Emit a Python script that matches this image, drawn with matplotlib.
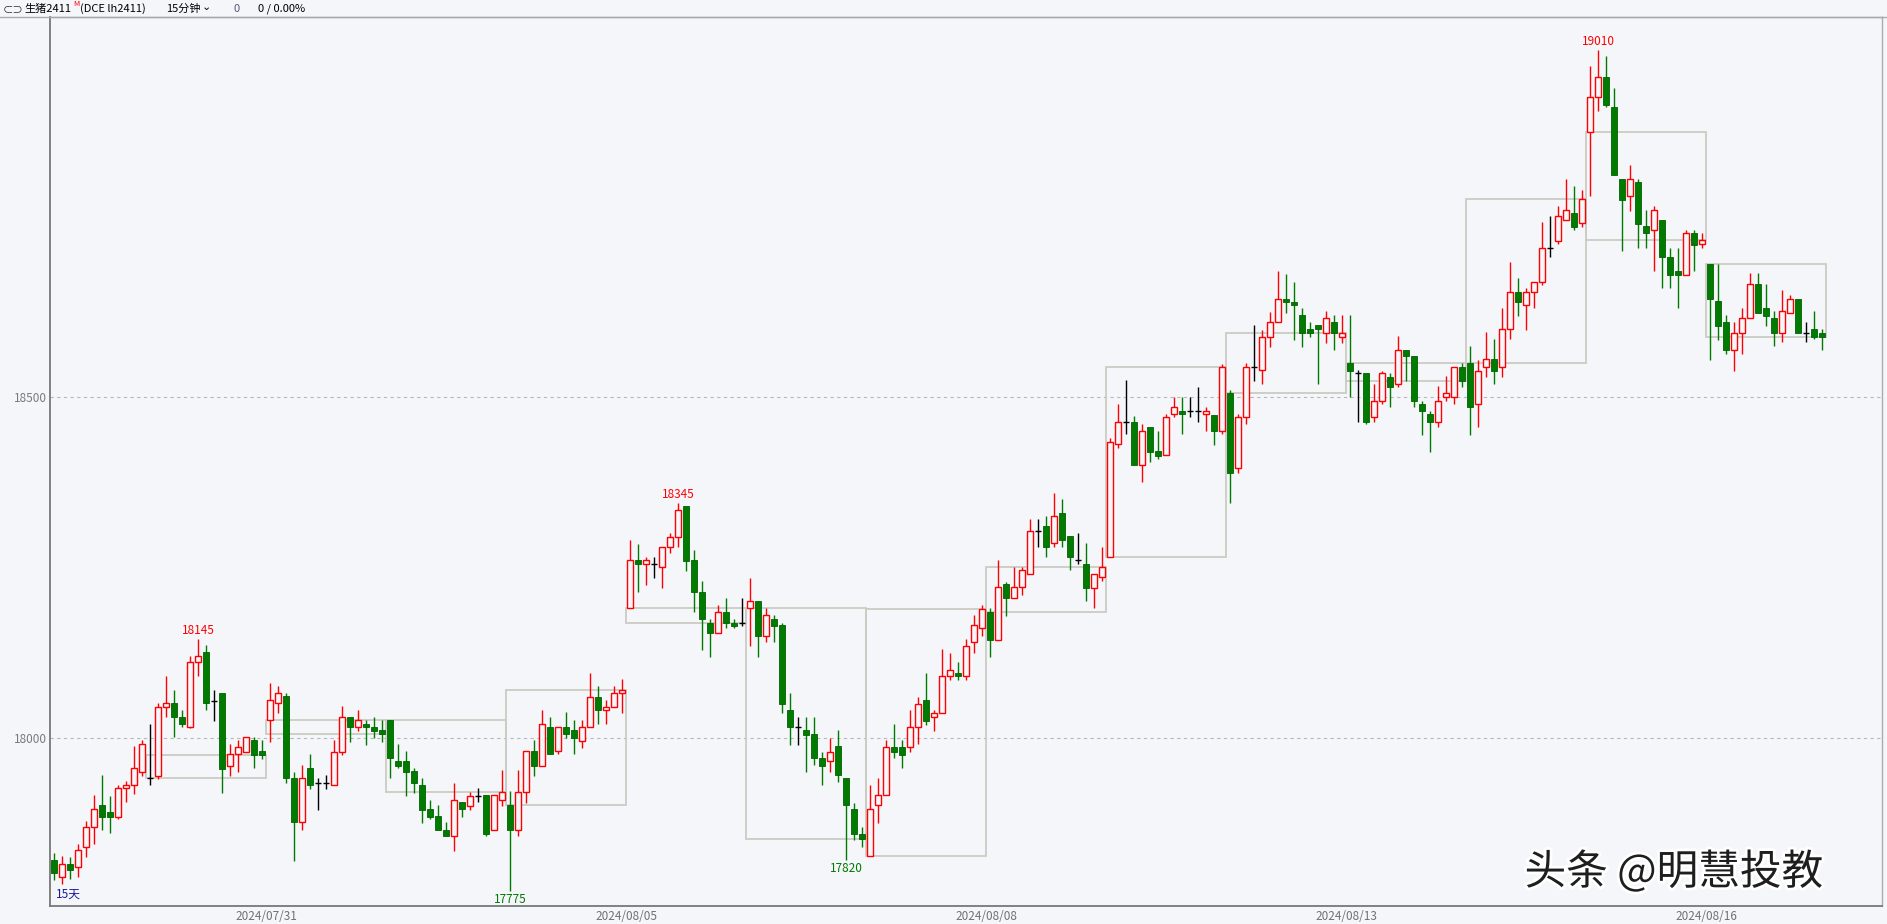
import matplotlib
matplotlib.use('Agg')
import matplotlib.pyplot as plt
import matplotlib.patheffects as pe
from matplotlib.patches import Rectangle
from matplotlib.lines import Line2D
import numpy as np

plt.rcParams['font.family'] = ['Noto Sans CJK SC', 'DejaVu Sans']

# 15分钟K线 生猪2411, 每根: 开 高 低 收
opens = [17820, 17795, 17815, 17810, 17840, 17869, 17901, 17891, 17884, 17926, 17931, 17950,
         17940, 17944, 18045, 18051, 18030, 18015, 18111, 18126, 18054, 18066, 17959, 17976, 17979, 17996, 17980,
         18026, 18051, 18061, 17940, 17876, 17955, 17934, 17934, 17930, 17979, 18031, 18015, 18020, 18016, 18011,
         18026, 17965, 17965, 17951, 17930, 17895, 17885, 17865, 17855, 17905, 17900, 17915, 17916, 17865, 17909,
         17901, 17864, 17920, 17980, 17959, 18015, 17980, 18015, 18011, 17995, 18015, 18060, 18040, 18045, 18065,
         18190, 18261, 18255, 18255, 18250, 18280, 18295, 18340, 18261, 18214, 18169, 18154, 18185, 18169, 18169,
         18190, 18200, 18150, 18175, 18165, 18041, 18015, 18011, 18005, 17970, 17965, 17987, 17940, 17895, 17859,
         17826, 17901, 17916, 17986, 17986, 17986, 18015, 18055, 18030, 18036, 18090, 18095, 18090, 18140, 18161,
         18185, 18144, 18226, 18205, 18221, 18240, 18304, 18311, 18286, 18330, 18296, 18261, 18255, 18220, 18236,
         18266, 18431, 18464, 18464, 18401, 18456, 18421, 18415, 18475, 18480, 18480, 18480, 18475, 18474, 18450,
         18506, 18396, 18471, 18545, 18540, 18589, 18610, 18645, 18640, 18621, 18600, 18606, 18595, 18610, 18589,
         18550, 18535, 18535, 18471, 18495, 18530, 18520, 18570, 18560, 18490, 18475, 18464, 18500, 18500, 18545,
         18550, 18490, 18545, 18556, 18545, 18600, 18655, 18636, 18655, 18670, 18720, 18730, 18760, 18770, 18756,
         18890, 18941, 18970, 18926, 18821, 18795, 18816, 18751, 18745, 18760, 18706, 18686, 18680, 18741, 18725,
         18696, 18642, 18610, 18570, 18595, 18616, 18666, 18631, 18616, 18595, 18624, 18645, 18595, 18600, 18595]
highs = [17830, 17826, 17824, 17844, 17877, 17916, 17945, 17914, 17931, 17937, 17987, 17996,
         18020, 18051, 18091, 18070, 18041, 18120, 18145, 18136, 18070, 18066, 17991, 17996, 18001, 18001, 17996,
         18081, 18076, 18066, 17950, 17960, 17976, 17940, 17945, 17996, 18046, 18031, 18041, 18026, 18031, 18026,
         18026, 17991, 17980, 17955, 17940, 17909, 17901, 17876, 17934, 17905, 17920, 17926, 17916, 17916, 17952,
         17921, 17952, 17980, 17997, 18041, 18031, 18015, 18037, 18026, 18026, 18095, 18076, 18055, 18076, 18086,
         18290, 18285, 18265, 18265, 18280, 18300, 18345, 18340, 18276, 18230, 18175, 18195, 18205, 18175, 18205,
         18235, 18200, 18190, 18180, 18169, 18065, 18030, 18030, 18030, 17979, 18000, 18011, 17940, 17904, 17869,
         17930, 17940, 17996, 18020, 17996, 18041, 18060, 18095, 18041, 18130, 18125, 18111, 18145, 18180, 18195,
         18190, 18261, 18229, 18250, 18250, 18321, 18321, 18326, 18360, 18350, 18296, 18301, 18286, 18240, 18280,
         18440, 18490, 18525, 18472, 18461, 18456, 18450, 18475, 18500, 18500, 18500, 18515, 18485, 18474, 18549,
         18510, 18475, 18550, 18606, 18599, 18625, 18685, 18681, 18670, 18631, 18610, 18606, 18626, 18621, 18621,
         18621, 18540, 18535, 18520, 18539, 18535, 18590, 18570, 18560, 18495, 18480, 18516, 18531, 18545, 18550,
         18575, 18555, 18596, 18585, 18631, 18699, 18675, 18660, 18670, 18757, 18766, 18781, 18820, 18810, 18805,
         18986, 19010, 19001, 18955, 18821, 18841, 18821, 18775, 18781, 18760, 18720, 18720, 18746, 18746, 18741,
         18696, 18696, 18621, 18610, 18631, 18682, 18682, 18666, 18626, 18657, 18650, 18645, 18610, 18626, 18600]
lows = [17791, 17785, 17793, 17795, 17825, 17844, 17864, 17860, 17880, 17905, 17917, 17944,
        17930, 17939, 18030, 18001, 18016, 18014, 18090, 18040, 18025, 17919, 17944, 17950, 17979, 17955, 17969,
        17994, 18036, 17934, 17819, 17865, 17925, 17894, 17925, 17930, 17975, 17994, 18010, 17989, 18000, 17994,
        17940, 17955, 17915, 17919, 17875, 17880, 17864, 17855, 17834, 17884, 17894, 17905, 17855, 17865, 17900,
        17775, 17855, 17904, 17944, 17959, 17976, 17976, 18000, 17976, 17985, 18015, 18020, 18020, 18045, 18036,
        18190, 18214, 18224, 18235, 18220, 18271, 18280, 18245, 18185, 18129, 18119, 18154, 18161, 18161, 18164,
        18135, 18119, 18140, 18140, 18036, 17989, 17989, 17950, 17960, 17930, 17950, 17935, 17820, 17850, 17840,
        17826, 17875, 17916, 17970, 17955, 17979, 17990, 18019, 18010, 18036, 18085, 18085, 18085, 18125, 18149,
        18119, 18144, 18179, 18205, 18210, 18240, 18280, 18265, 18280, 18280, 18246, 18255, 18200, 18190, 18230,
        18266, 18425, 18446, 18401, 18375, 18405, 18410, 18415, 18471, 18446, 18471, 18464, 18450, 18430, 18446,
        18345, 18389, 18461, 18524, 18520, 18574, 18610, 18624, 18584, 18574, 18589, 18520, 18580, 18570, 18579,
        18500, 18464, 18461, 18464, 18490, 18485, 18515, 18524, 18485, 18445, 18420, 18456, 18495, 18490, 18515,
        18445, 18456, 18530, 18520, 18530, 18585, 18620, 18599, 18631, 18665, 18706, 18725, 18760, 18745, 18750,
        18795, 18920, 18926, 18826, 18715, 18774, 18720, 18720, 18685, 18660, 18660, 18631, 18680, 18685, 18720,
        18555, 18584, 18564, 18539, 18564, 18616, 18624, 18605, 18575, 18581, 18624, 18595, 18581, 18585, 18570]
closes = [17801, 17815, 17805, 17835, 17869, 17895, 17884, 17884, 17926, 17931, 17955, 17991,
          17940, 18045, 18051, 18030, 18020, 18111, 18120, 18051, 18054, 17954, 17976, 17986, 18001, 17975, 17975,
          18055, 18065, 17940, 17876, 17940, 17930, 17934, 17934, 17979, 18031, 18015, 18026, 18015, 18010, 18005,
          17970, 17959, 17950, 17934, 17894, 17884, 17864, 17855, 17909, 17895, 17915, 17915, 17858, 17916, 17920,
          17864, 17920, 17980, 17959, 18020, 17976, 18015, 18005, 18000, 18015, 18060, 18040, 18045, 18065, 18070,
          18261, 18255, 18261, 18255, 18280, 18295, 18335, 18260, 18214, 18175, 18154, 18185, 18169, 18164, 18169,
          18200, 18150, 18180, 18164, 18050, 18015, 18015, 18004, 17970, 17959, 17979, 17945, 17901, 17859, 17851,
          17895, 17916, 17986, 17979, 17975, 18015, 18050, 18025, 18036, 18090, 18100, 18090, 18135, 18165, 18189,
          18144, 18221, 18205, 18221, 18246, 18304, 18304, 18280, 18325, 18290, 18265, 18261, 18220, 18240, 18250,
          18435, 18464, 18464, 18401, 18450, 18420, 18414, 18471, 18485, 18475, 18480, 18480, 18480, 18450, 18545,
          18389, 18471, 18545, 18545, 18589, 18610, 18645, 18640, 18635, 18595, 18595, 18600, 18616, 18595, 18595,
          18539, 18535, 18464, 18495, 18535, 18515, 18570, 18560, 18495, 18480, 18464, 18495, 18506, 18545, 18524,
          18485, 18539, 18556, 18539, 18600, 18655, 18640, 18655, 18670, 18720, 18720, 18766, 18775, 18750, 18791,
          18941, 18970, 18929, 18826, 18790, 18821, 18755, 18741, 18775, 18706, 18680, 18680, 18741, 18724, 18731,
          18645, 18605, 18570, 18595, 18616, 18666, 18624, 18620, 18595, 18626, 18645, 18595, 18595, 18589, 18589]

first_day_bars = 12   # 07/29 只显示了后12根
bars_per_day = 15
day_dates = ['2024/07/29', '2024/07/30', '2024/07/31', '2024/08/01', '2024/08/02',
             '2024/08/05', '2024/08/06', '2024/08/07', '2024/08/08', '2024/08/09',
             '2024/08/12', '2024/08/13', '2024/08/14', '2024/08/15', '2024/08/16']
date_ticks = ['2024/07/31', '2024/08/05', '2024/08/08', '2024/08/13', '2024/08/16']
y_ticks = [18000, 18500]
high_marks = [18, 78, 193]
low_marks = [57, 99]

bg = '#f5f6fa'
red = '#ff0000'
green = '#007a00'

o = np.array(opens, float)
h = np.array(highs, float)
l = np.array(lows, float)
c = np.array(closes, float)
x = np.arange(len(o))
up = c > o
dn = c < o
eq = c == o

fig = plt.figure(figsize=(18.87, 9.24), dpi=100, facecolor=bg)
ax = fig.add_axes([50 / 1887, 1 - 906 / 924, 1832 / 1887, 889 / 924])
ax.set_facecolor(bg)
ax.set_xlim(-0.5, 228.5)
ax.set_ylim(17752.7, 19058.6)

# 日线实体方框
starts = [0] + [first_day_bars + k * bars_per_day for k in range(len(day_dates) - 1)]
for k in range(1, len(day_dates)):
    s = starts[k]
    e = s + bars_per_day
    do, dc = o[s], c[e - 1]
    ax.add_patch(Rectangle((s - 0.5, min(do, dc)), e - s, abs(dc - do), fill=False,
                           edgecolor='#cbcbc3', lw=1.3, zorder=1))

# 影线
ax.vlines(x[up], l[up], h[up], color=red, lw=1, zorder=2)
ax.vlines(x[dn], l[dn], h[dn], color=green, lw=1, zorder=2)
ax.vlines(x[eq], l[eq], h[eq], color='black', lw=1, zorder=2)
# 实体
ax.bar(x[up], c[up] - o[up], bottom=o[up], width=0.72, facecolor=bg, edgecolor=red, lw=1, zorder=3)
ax.bar(x[dn], o[dn] - c[dn], bottom=c[dn], width=0.72, facecolor=green, edgecolor='#006400', lw=0.6, zorder=3)
ax.hlines(c[eq], x[eq] - 0.42, x[eq] + 0.42, color='black', lw=1, zorder=3)

for i in high_marks:
    ax.annotate(f'{h[i]:.0f}', (i, h[i]), xytext=(0, 1.5), textcoords='offset points',
                ha='center', va='bottom', color=red, fontsize=8.5)
for i in low_marks:
    ax.annotate(f'{l[i]:.0f}', (i, l[i]), xytext=(0, -1.5), textcoords='offset points',
                ha='center', va='top', color=green, fontsize=8.5)

for yv in y_ticks:
    ax.axhline(yv, color='#b8b8b8', lw=0.8, dashes=(3, 3), zorder=0)
ax.set_yticks(y_ticks)
ax.set_yticklabels([str(v) for v in y_ticks], color='#7a7a7a', fontsize=8.5)

ax.set_xticks([starts[day_dates.index(d)] - 0.5 for d in date_ticks])
ax.set_xticklabels(date_ticks, color='#707070', fontsize=8.5)
ax.tick_params(length=0, pad=2)
ax.tick_params(axis='x', pad=3)

for side in ['left', 'bottom']:
    ax.spines[side].set_color('#777777')
    ax.spines[side].set_linewidth(1.3)
for side in ['top', 'right']:
    ax.spines[side].set_color('#aaaaaa')
    ax.spines[side].set_linewidth(1)

ax.text(0.3, 17760, '15天', color='#1a1aa0', fontsize=8.5, ha='left', va='bottom')

# 顶部标题栏, 依次排开
fig.add_artist(Line2D([0, 1], [1 - 17 / 924, 1 - 17 / 924], color='#aaaaaa', lw=1))
ty = 1 - 9 / 924
renderer = fig.canvas.get_renderer()
header = [('⊂⊃', 3, '#333333', 7.5, 0), ('生猪2411', 24, 'black', 8, 0), ('M', 0, red, 5.5, 0.005),
          ('(DCE lh2411)', 0, 'black', 8, 0), ('15分钟', 166, 'black', 8, 0), ('⌄', 0, 'black', 8, 0.002),
          ('0', 233, '#555577', 8, 0), ('0 / 0.00%', 258, 'black', 8, 0)]
xpos = 0
for txt, x0, col, fs, dy in header:
    xpos = max(xpos, x0)
    t = fig.text(xpos / 1887, ty + dy, txt, fontsize=fs, va='center', ha='left', color=col)
    xpos = t.get_window_extent(renderer).x1 + 1

# 水印
fig.text(1823 / 1887, 1 - 872 / 924, '头条 @明慧投教', fontsize=30, ha='right', va='center',
         color='#1e1e1e', path_effects=[pe.withStroke(linewidth=4, foreground='white')])

fig.savefig('out.png', dpi=100, facecolor=bg)
